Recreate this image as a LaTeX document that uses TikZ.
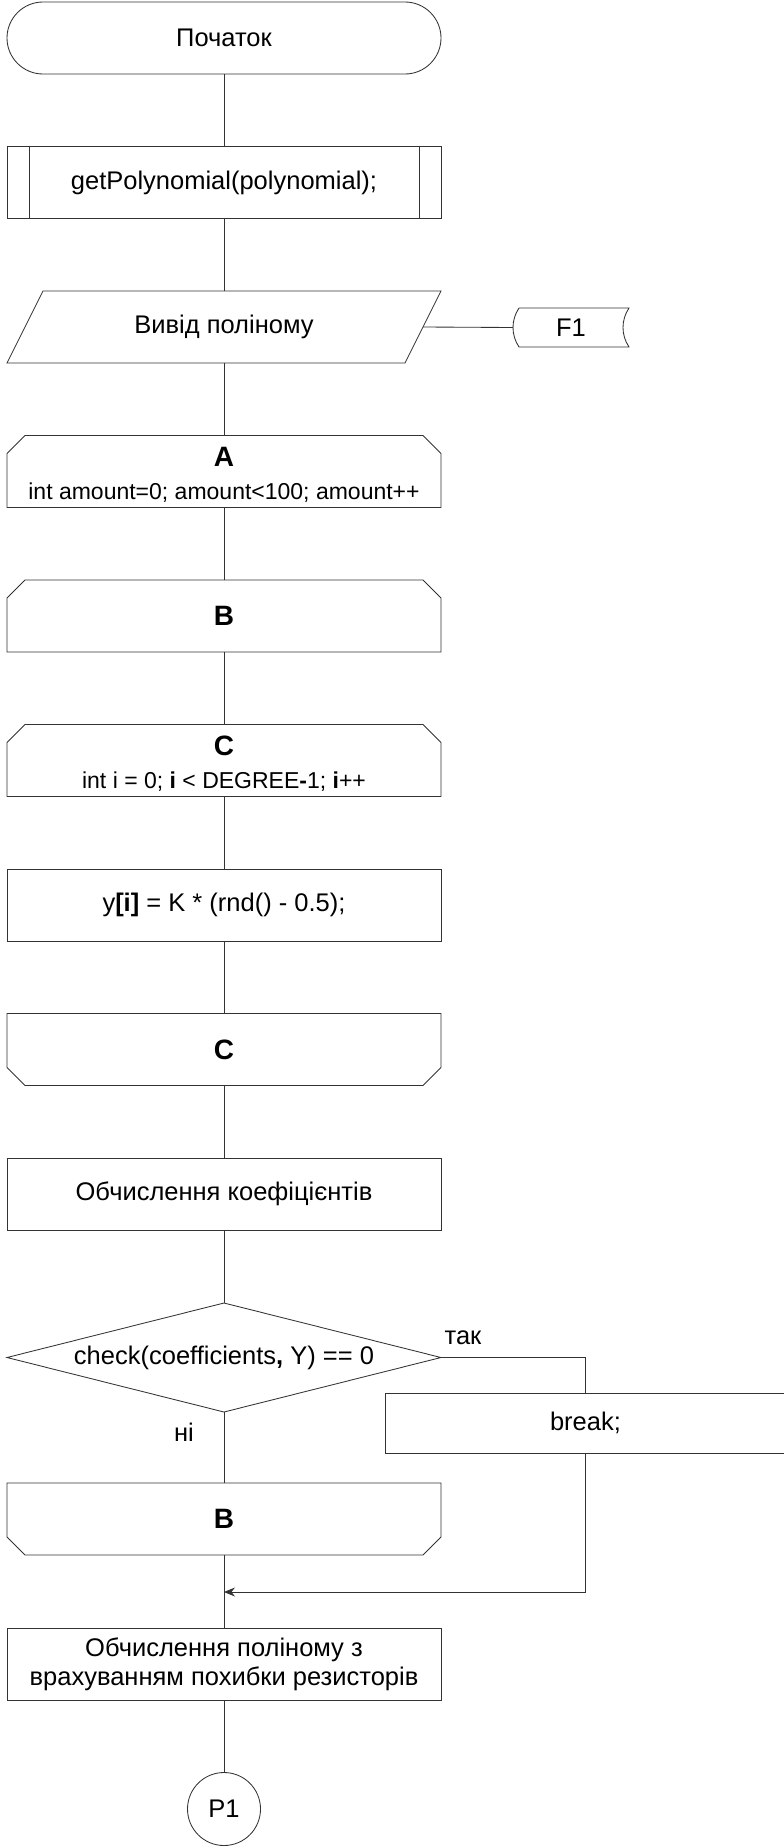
\documentclass[tikz,border=0pt]{standalone}
\usepackage{fontspec}
\setmainfont{Liberation Sans}
\usetikzlibrary{arrows.meta,calc}

\begin{document}
\begin{tikzpicture}[x=1pt,y=-1pt,
  ln/.style={draw=black!80, line width=0.85pt},
  blk/.style={minimum width=434pt, minimum height=72pt, inner sep=0pt, outer sep=0pt,
    font=\fontsize{25.5}{29}\selectfont, align=center},
  txt/.style={inner sep=0pt, font=\fontsize{25.5}{29}\selectfont},
  subtxt/.style={inner sep=0pt, font=\fontsize{23}{27}\selectfont},
  bigtxt/.style={inner sep=0pt, font=\fontsize{28}{32}\selectfont\bfseries},
  flow/.style={ln},
  arr/.style={ln, -{Stealth[length=11pt,width=9pt]}}
]
\useasboundingbox (0,0) rectangle (784,1847);

% terminal
\node[blk, ln, rounded corners=36pt] (start) at (224,38) {Початок};

% predefined process
\node[blk, ln] (getp) at (224,182.5) {getPolynomial(polynomial);};
\draw[ln] ([xshift=22pt]getp.north west) -- ([xshift=22pt]getp.south west);
\draw[ln] ([xshift=-22pt]getp.north east) -- ([xshift=-22pt]getp.south east);

% output (parallelogram)
\node[blk] (out) at (224,327) {Вивід поліному};
\draw[ln] ($(out.north west)+(36,0)$) -- (out.north east)
  -- ($(out.south east)+(-36,0)$) -- (out.south west) -- cycle;
\coordinate (outR) at ($(out.east)+(-18,0)$);

% stored data F1
\node[minimum width=116pt, minimum height=39pt, inner sep=0pt, outer sep=0pt,
  font=\fontsize{25.5}{29}\selectfont] (f1) at (571,327.5) {F1};
\draw[ln] ($(f1.north west)+(6,0)$) -- (f1.north east)
  .. controls ($(f1.north east)+(-8,12)$) and ($(f1.south east)+(-8,-12)$) .. (f1.south east)
  -- ($(f1.south west)+(6,0)$)
  .. controls ($(f1.south west)+(-2,-12)$) and ($(f1.north west)+(-2,12)$) .. ($(f1.north west)+(6,0)$);
\draw[flow] (outR) -- (f1.west);

% loop A (start)
\node[blk] (loopA) at (224,471.5) {};
\draw[ln] (loopA.south west) -- ($(loopA.north west)+(0,18)$) -- ($(loopA.north west)+(18,0)$)
  -- ($(loopA.north east)+(-18,0)$) -- ($(loopA.north east)+(0,18)$) -- (loopA.south east) -- cycle;
\node[bigtxt] (loopAname) at (224,457) {A};
\node[subtxt] (loopAcond) at (224,492.5) {int amount=0; amount<100; amount++};

% loop B (start)
\node[blk] (loopB) at (224,616) {};
\draw[ln] (loopB.south west) -- ($(loopB.north west)+(0,18)$) -- ($(loopB.north west)+(18,0)$)
  -- ($(loopB.north east)+(-18,0)$) -- ($(loopB.north east)+(0,18)$) -- (loopB.south east) -- cycle;
\node[bigtxt] (loopBname) at (224,616) {B};

% loop C (start)
\node[blk] (loopC) at (224,760.5) {};
\draw[ln] (loopC.south west) -- ($(loopC.north west)+(0,18)$) -- ($(loopC.north west)+(18,0)$)
  -- ($(loopC.north east)+(-18,0)$) -- ($(loopC.north east)+(0,18)$) -- (loopC.south east) -- cycle;
\node[bigtxt] (loopCname) at (224,746) {C};
\node[subtxt] (loopCcond) at (224,781.5) {int i = 0; \textbf{i} < DEGREE\textbf{-}1; \textbf{i}++};

% body
\node[blk, ln] (rnd) at (224,905) {y\textbf{[i]} = K * (rnd() - 0.5);};

% loop C (end)
\node[blk] (endC) at (224,1049.5) {};
\draw[ln] (endC.north west) -- ($(endC.south west)+(0,-18)$) -- ($(endC.south west)+(18,0)$)
  -- ($(endC.south east)+(-18,0)$) -- ($(endC.south east)+(0,-18)$) -- (endC.north east) -- cycle;
\node[bigtxt] (endCname) at (224,1049.5) {C};

% coefficients
\node[blk, ln] (coef) at (224,1194) {Обчислення коефіцієнтів};

% decision
\node[blk, minimum height=109pt] (dec) at (224,1357.5) {check(coefficients\textbf{,} Y) == 0};
\draw[ln] (dec.north) -- (dec.east) -- (dec.south) -- (dec.west) -- cycle;
\node[txt] (yes) at (463,1338) {так};
\node[txt] (no) at (184,1432) {ні};

% break
\node[blk, ln, minimum width=400pt, minimum height=60pt] (brk) at (585.5,1423) {break;};
\draw[flow] (dec.east) -| (brk.north);

% loop B (end)
\node[blk] (endB) at (224,1519) {};
\draw[ln] (endB.north west) -- ($(endB.south west)+(0,-18)$) -- ($(endB.south west)+(18,0)$)
  -- ($(endB.south east)+(-18,0)$) -- ($(endB.south east)+(0,-18)$) -- (endB.north east) -- cycle;
\node[bigtxt] (endBname) at (224,1519) {B};

% polynomial with resistor tolerance
\node[blk, ln] (poly) at (224,1664) {Обчислення поліному з\\врахуванням похибки резисторів};

% off-page connector
\node[circle, ln, minimum size=73pt, inner sep=0pt, outer sep=0pt,
  font=\fontsize{25.5}{29}\selectfont] (p1) at (224,1809) {P1};

% merge point
\coordinate (merge) at (224,1592);

% connectors
\draw[flow] (start.south) -- (getp.north);
\draw[flow] (getp.south) -- (out.north);
\draw[flow] (out.south) -- (loopA.north);
\draw[flow] (loopA.south) -- (loopB.north);
\draw[flow] (loopB.south) -- (loopC.north);
\draw[flow] (loopC.south) -- (rnd.north);
\draw[flow] (rnd.south) -- (endC.north);
\draw[flow] (endC.south) -- (coef.north);
\draw[flow] (coef.south) -- (dec.north);
\draw[flow] (dec.south) -- (endB.north);
\draw[flow] (endB.south) -- (poly.north);
\draw[flow] (poly.south) -- (p1.north);
\draw[arr] (brk.south) |- (merge);
\end{tikzpicture}
\end{document}
